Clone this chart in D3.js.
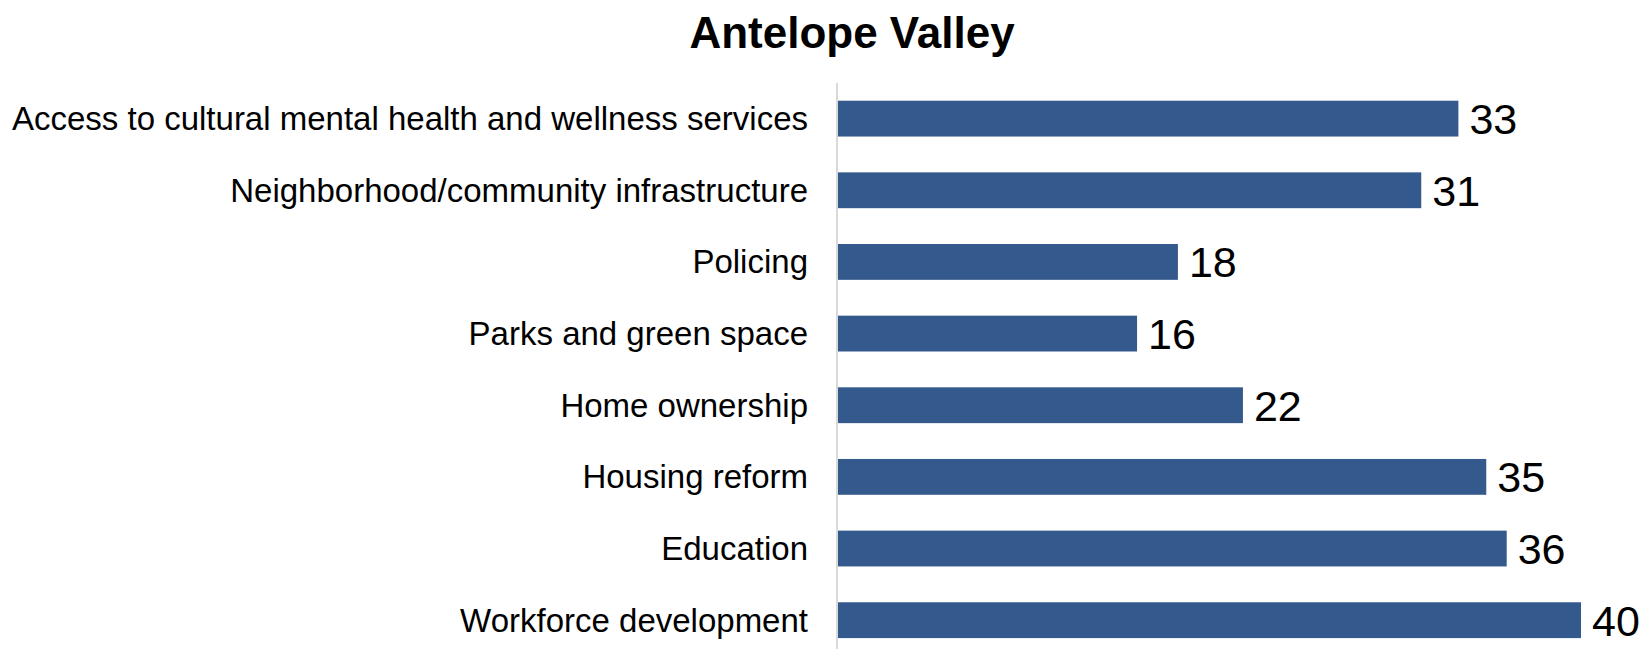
<!DOCTYPE html>
<html>
<head>
<meta charset="utf-8">
<script src="https://cdn.jsdelivr.net/npm/d3@7"></script>
<style>
  html, body { margin: 0; padding: 0; background: #fff; }
  svg { display: block; }
</style>
</head>
<body>
<svg id="chart" width="1648" height="649"></svg>
<script>
const title = "Antelope Valley";
const categories = [
  "Access to cultural mental health and wellness services",
  "Neighborhood/community infrastructure",
  "Policing",
  "Parks and green space",
  "Home ownership",
  "Housing reform",
  "Education",
  "Workforce development"
];
const values = [33.4, 31.4, 18.3, 16.1, 21.8, 34.9, 36.0, 40.0];

const svg = d3.select("#chart");
const W = 1648, H = 649;
const left = 838, right = 1581;

const x = d3.scaleLinear().domain([0, 40]).range([left, right]);
const y = d3.scaleBand().domain(categories).range([82.8, 656]).paddingInner(0.5).paddingOuter(0.25);

svg.append("text")
  .attr("x", 852).attr("y", 48)
  .attr("text-anchor", "middle")
  .attr("font-family", "Liberation Sans, Arial, sans-serif")
  .attr("font-weight", "bold")
  .attr("font-size", 44)
  .attr("fill", "#000")
  .text(title);

const data = categories.map((c, i) => ({c, v: values[i]}));

svg.append("g").selectAll("rect").data(data).join("rect")
  .attr("x", x(0))
  .attr("y", d => y(d.c))
  .attr("width", d => x(d.v) - x(0))
  .attr("height", y.bandwidth())
  .attr("fill", "#34598c");

// axis line
svg.append("line")
  .attr("x1", left - 1).attr("x2", left - 1)
  .attr("y1", 83).attr("y2", H)
  .attr("stroke", "#d9d9d9").attr("stroke-width", 2);

// category labels
svg.append("g").selectAll("text").data(data).join("text")
  .attr("x", 808)
  .attr("y", d => y(d.c) + y.bandwidth() / 2)
  .attr("dy", "0.35em")
  .attr("text-anchor", "end")
  .attr("font-family", "Liberation Sans, Arial, sans-serif")
  .attr("font-size", 33)
  .attr("fill", "#000")
  .text(d => d.c);

// value labels
svg.append("g").selectAll("text").data(data).join("text")
  .attr("x", d => x(d.v) + 11)
  .attr("y", d => y(d.c) + y.bandwidth() / 2)
  .attr("dy", "0.36em")
  .attr("text-anchor", "start")
  .attr("font-family", "Liberation Sans, Arial, sans-serif")
  .attr("font-size", 43)
  .attr("fill", "#000")
  .text(d => Math.round(d.v));
</script>
</body>
</html>
